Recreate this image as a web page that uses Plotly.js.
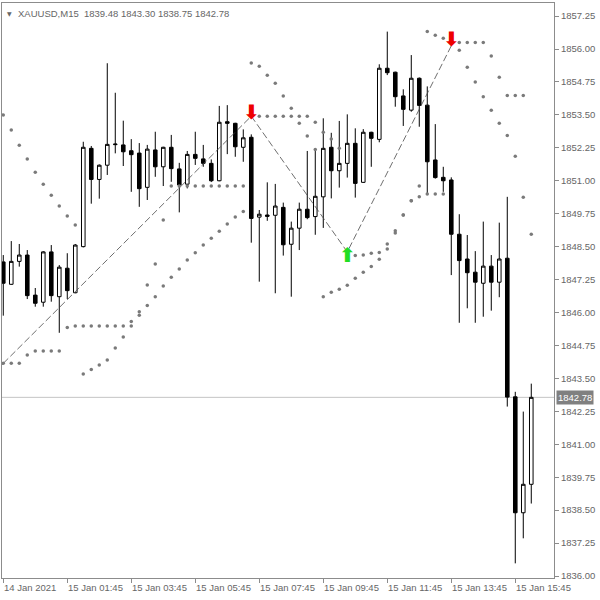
<!DOCTYPE html>
<html>
<head>
<meta charset="utf-8">
<script src="https://cdn.plot.ly/plotly-3.0.1.min.js"></script>
<style>html,body{margin:0;padding:0;background:#fff;}#chart{width:600px;height:600px;}</style>
</head>
<body>
<div id="chart"></div>
<script>
// ---- data (XAUUSD, M15) ----
const symbolName = "XAUUSD,M15";
const opens = [1847.92,1847.07,1847.94,1848.18,1846.66,1846.39,1848.30,1846.60,1847.68,1846.75,
1848.50,1852.23,1851.05,1851.59,1852.37,1852.36,1852.14,1852.05,1850.75,1852.17,
1851.53,1852.27,1851.45,1850.87,1852.00,1851.83,1851.66,1851.00,1853.24,1853.18,
1852.27,1852.65,1849.62,1849.70,1849.69,1849.99,1848.59,1849.20,1849.92,1849.64,
1850.39,1852.27,1851.38,1851.66,1852.42,1850.94,1852.84,1852.57,1855.27,1855.12,
1854.22,1853.68,1854.89,1853.87,1851.79,1851.13,1851.03,1848.97,1848.03,1847.53,
1847.11,1847.76,1847.15,1848.06,1842.80,1838.40,1839.48];
const highs = [1848.18,1848.71,1848.60,1848.37,1846.93,1848.33,1848.56,1847.80,1848.25,1848.60,
1852.48,1852.32,1851.62,1855.46,1854.34,1853.28,1852.58,1852.43,1852.36,1852.86,
1852.29,1852.74,1851.68,1852.13,1852.86,1852.36,1851.81,1853.84,1853.87,1853.20,
1852.95,1852.76,1849.89,1850.94,1850.88,1850.17,1849.45,1850.17,1852.13,1852.13,
1853.37,1852.82,1853.27,1853.52,1852.99,1852.96,1852.86,1855.42,1856.66,1855.14,
1854.47,1855.77,1854.92,1854.58,1853.15,1851.53,1851.13,1849.73,1848.94,1848.33,
1849.45,1848.18,1849.41,1850.39,1842.99,1842.24,1843.30];
const lows = [1845.88,1847.05,1847.74,1846.51,1846.22,1846.22,1846.41,1845.23,1846.51,1846.73,
1848.47,1850.13,1850.32,1851.22,1852.04,1851.56,1850.58,1850.01,1850.27,1851.15,
1850.80,1850.96,1849.80,1850.71,1851.60,1851.53,1850.95,1850.98,1852.01,1851.91,
1851.72,1848.65,1847.17,1849.48,1846.73,1848.16,1846.60,1848.37,1849.54,1848.95,
1849.21,1850.33,1850.74,1851.12,1850.36,1850.92,1851.53,1852.46,1855.01,1853.81,
1853.08,1853.62,1853.05,1850.50,1851.08,1850.58,1847.42,1845.61,1846.16,1845.61,
1845.84,1846.07,1846.58,1842.43,1836.48,1837.43,1838.75];
const closes = [1847.11,1847.94,1848.18,1846.64,1846.35,1848.30,1846.64,1847.72,1846.83,1848.56,
1852.27,1851.05,1851.59,1852.38,1852.39,1852.10,1851.99,1850.70,1852.20,1851.53,
1852.27,1851.46,1850.84,1852.00,1851.85,1851.66,1851.00,1853.22,1853.18,1852.29,
1852.63,1849.57,1849.73,1849.65,1850.04,1848.57,1849.20,1849.92,1849.60,1850.41,
1852.23,1851.38,1851.66,1852.42,1850.90,1852.84,1852.61,1855.27,1855.10,1854.19,
1853.71,1854.89,1853.86,1851.72,1851.12,1851.00,1848.97,1847.97,1847.51,1847.15,
1847.76,1847.15,1848.03,1842.79,1838.40,1839.48,1842.78];

// two parabolic-SAR style dot rows (null = no dot)
const sarA = [1853.50,1852.93,1852.35,1851.83,1851.32,1850.87,1850.45,1850.04,1849.66,1849.32,
1843.67,1843.84,1844.01,1844.20,1844.65,1845.07,1845.66,1846.03,1847.04,1847.84,
1849.51,1850.80,1850.80,1850.80,1850.80,1850.80,1850.80,1850.80,1850.80,1850.80,
1850.80,null,1853.45,1853.45,1853.45,1853.45,1853.45,1853.45,1853.45,1853.22,
1852.84,1852.58,1852.23,null,1848.16,1848.18,1848.25,1848.28,1848.60,1849.10,
1849.70,1850.24,1850.39,1850.50,1850.50,1850.50,null,1856.25,1856.25,1856.25,
1856.25,1855.73,1854.93,1854.24,1854.24,1854.24,null];
const sarB = [1844.07,1844.07,1844.07,1844.39,1844.54,1844.54,1844.54,1844.54,1845.43,1845.49,
1845.49,1845.49,1845.49,1845.49,1845.49,1845.49,1845.49,1845.90,1846.27,1846.60,
1847.01,1847.34,1847.65,1847.99,1848.27,1848.56,1848.82,1849.08,1849.36,1849.62,
1849.83,1855.47,1855.35,1855.00,1854.70,1854.22,1853.75,1853.18,1852.70,1852.19,
1846.60,1846.77,1846.88,1847.03,1847.30,1847.53,1847.75,1848.02,1848.41,1849.02,
1849.70,1850.24,1850.80,1856.66,1856.52,1856.41,null,1855.95,1855.31,1854.75,
1854.19,1853.68,1853.18,1852.72,1851.93,1850.37,1848.97];

// zigzag vertices
const zzIdx = [0, 31, 43, 56];
const zzPrice = [1844.07, 1853.45, 1848.30, 1856.12];

// signal arrows
const sellIdx = [31, 56];
const sellPrice = [1853.52, 1856.32];
const buyIdx = [43];
const buyPrice = [1848.12];

// axis ticks
const tickIdx = [0, 8, 16, 24, 32, 40, 48, 56, 64];
const tickText = ["14 Jan 2021","15 Jan 01:45","15 Jan 03:45","15 Jan 05:45","15 Jan 07:45",
                  "15 Jan 09:45","15 Jan 11:45","15 Jan 13:45","15 Jan 15:45"];
const priceTicks = [1836.00,1837.25,1838.50,1839.75,1841.00,1842.25,1843.50,1844.75,1846.00,
                    1847.25,1848.50,1849.75,1851.00,1852.25,1853.50,1854.75,1856.00,1857.25];

// ---- chart ----
const bars = opens.map((_, i) => i);
const last = opens.length - 1;
const lastClose = closes[last];
const fontFam = "Liberation Sans, Arial, sans-serif";
const txtGray = "#666666";
const axisGray = "#8c8c8c";

const traces = [
  {
    type: "scatter", mode: "lines", x: zzIdx, y: zzPrice,
    line: {color: "#4a4a4a", width: 0.8, dash: "7px,3px"}, hoverinfo: "skip"
  },
  {
    type: "scatter", mode: "markers", x: bars, y: sarA,
    marker: {color: "#7a7a7a", size: 3.5, symbol: "circle"}, hoverinfo: "skip"
  },
  {
    type: "scatter", mode: "markers", x: bars, y: sarB,
    marker: {color: "#7a7a7a", size: 3.5, symbol: "circle"}, hoverinfo: "skip"
  },
  {
    type: "candlestick", x: bars, open: opens, high: highs, low: lows, close: closes,
    increasing: {fillcolor: "#ffffff", line: {color: "#000000", width: 1}},
    decreasing: {fillcolor: "#000000", line: {color: "#000000", width: 1}},
    whiskerwidth: 0, hoverinfo: "skip"
  },
  {
    type: "scatter", mode: "text", x: sellIdx, y: sellPrice,
    text: sellIdx.map(() => "\u2B07"), textposition: "middle center",
    textfont: {family: "DejaVu Sans", size: 20, weight: "bold", color: "#ee0000"}, hoverinfo: "skip"
  },
  {
    type: "scatter", mode: "text", x: buyIdx, y: buyPrice,
    text: buyIdx.map(() => "\u2B06"), textposition: "middle center",
    textfont: {family: "DejaVu Sans", size: 20, weight: "bold", color: "#22dd22"}, hoverinfo: "skip"
  }
];

const annotations = tickIdx.map((t, i) => ({
  xref: "x", x: t, yref: "paper", y: 0, xanchor: "left", yanchor: "top",
  yshift: -2, xshift: -1, text: tickText[i], showarrow: false,
  font: {family: fontFam, size: 9.5, color: txtGray}
}));
annotations.push({
  xref: "paper", x: 1, yref: "y", y: lastClose, xanchor: "left", yanchor: "middle",
  xshift: 2, text: lastClose.toFixed(2), showarrow: false, bgcolor: "#808080",
  borderpad: 1, font: {family: fontFam, size: 9.5, color: "#ffffff"}
});
annotations.push({
  xref: "paper", x: 0, yref: "paper", y: 1, xanchor: "left", yanchor: "top",
  xshift: 3, yshift: -5, text: "\u25BC", showarrow: false,
  font: {family: "DejaVu Sans", size: 6, color: txtGray}
});
annotations.push({
  xref: "paper", x: 0, yref: "paper", y: 1, xanchor: "left", yanchor: "top",
  xshift: 14, yshift: -3,
  text: symbolName + "\u00a0\u00a0" + [opens[last], highs[last], lows[last], closes[last]].map(v => v.toFixed(2)).join(" "),
  showarrow: false, font: {family: fontFam, size: 9.5, color: txtGray}
});

const layout = {
  width: 600, height: 600,
  margin: {l: 2, r: 46, t: 3, b: 22, pad: 0},
  paper_bgcolor: "#ffffff", plot_bgcolor: "#ffffff",
  showlegend: false,
  boxgap: 0.36,
  xaxis: {
    range: [-0.16, 68.84], showgrid: false, zeroline: false,
    showline: true, mirror: true, linecolor: axisGray, linewidth: 1,
    tickvals: tickIdx, showticklabels: false, ticks: "outside", ticklen: 4,
    tickcolor: axisGray, rangeslider: {visible: false}, fixedrange: true
  },
  yaxis: {
    side: "right", range: [1835.924, 1857.746], showgrid: false, zeroline: false,
    showline: true, mirror: true, linecolor: axisGray, linewidth: 1,
    tickvals: priceTicks, ticktext: priceTicks.map(v => v.toFixed(2)),
    ticks: "outside", ticklen: 4, tickcolor: axisGray,
    tickfont: {family: fontFam, size: 9.5, color: txtGray}, fixedrange: true
  },
  shapes: [{
    type: "line", xref: "paper", x0: 0, x1: 1, yref: "y", y0: lastClose, y1: lastClose,
    line: {color: "#c4c4c4", width: 1}, layer: "below"
  }],
  annotations: annotations
};

Plotly.newPlot("chart", traces, layout, {staticPlot: true, displayModeBar: false});
</script>
</body>
</html>
